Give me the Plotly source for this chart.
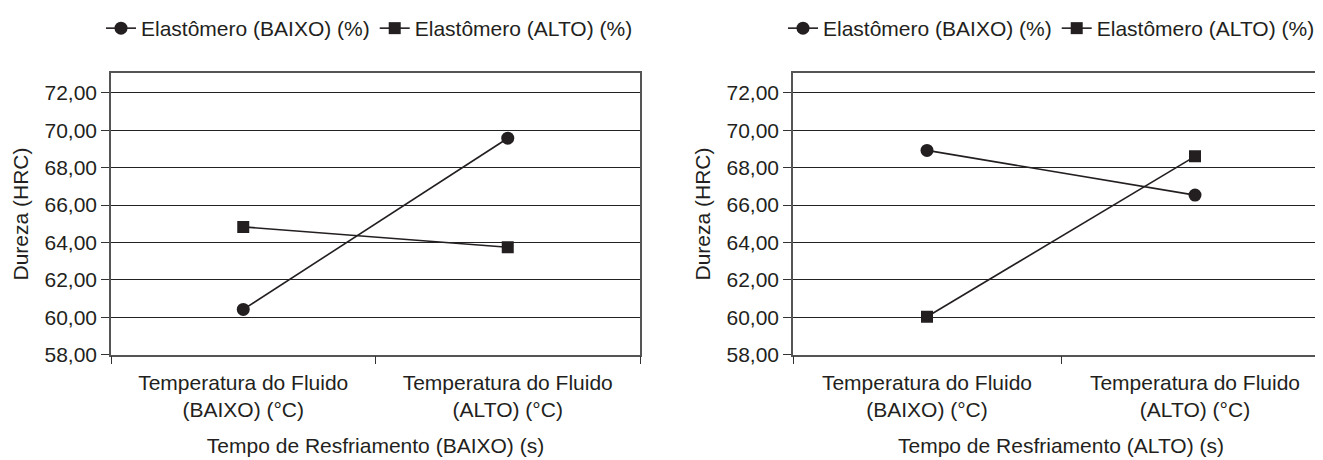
import plotly.graph_objects as go

# ---- data ----
categories = ["Temperatura do Fluido<br>(BAIXO) (°C)", "Temperatura do Fluido<br>(ALTO) (°C)"]
series_names = ["Elastômero (BAIXO) (%)", "Elastômero (ALTO) (%)"]
left_baixo = [60.42, 69.57]
left_alto = [64.83, 63.74]
right_baixo = [68.92, 66.53]
right_alto = [60.03, 68.60]
x_titles = ["Tempo de Resfriamento (BAIXO) (s)", "Tempo de Resfriamento (ALTO) (s)"]
y_title = "Dureza (HRC)"
y_ticks = [58, 60, 62, 64, 66, 68, 70, 72]

W, H = 1323, 460
FONT = "Liberation Sans, Arial, sans-serif"
FS = 21
INK = "#231f20"

fig = go.Figure()

panels = [
    (left_baixo, left_alto, "x", "y", "legend"),
    (right_baixo, right_alto, "x2", "y2", "legend2"),
]
for baixo, alto, xa, ya, lg in panels:
    fig.add_trace(go.Scatter(
        x=categories, y=baixo, name=series_names[0], mode="lines+markers",
        xaxis=xa, yaxis=ya, legend=lg,
        line=dict(color=INK, width=1.6),
        marker=dict(symbol="circle", size=13, color=INK),
    ))
    fig.add_trace(go.Scatter(
        x=categories, y=alto, name=series_names[1], mode="lines+markers",
        xaxis=xa, yaxis=ya, legend=lg,
        line=dict(color=INK, width=1.6),
        marker=dict(symbol="square", size=12, color=INK),
    ))

def px_x(p):
    return p / W

def px_y(p):
    return 1 - p / H

xdoms = [[px_x(103), px_x(632)], [px_x(785), px_x(1321)]]
ydom = [px_y(355), px_y(66)]

axis_common = dict(
    showline=True, linecolor="#555555", linewidth=1.5, mirror=True,
    ticks="outside", ticklen=8, tickcolor="#333333", tickwidth=1.3,
    tickfont=dict(family=FONT, size=FS, color=INK),
)

for i, (xk, yk, anchor_x, anchor_y) in enumerate([("xaxis", "yaxis", "y", "x"), ("xaxis2", "yaxis2", "y2", "x2")]):
    fig.layout[xk] = dict(
        domain=xdoms[i], anchor=anchor_x, type="category",
        range=[-0.5, 1.5], tickson="boundaries", showgrid=False,
        ticklabelstandoff=8,
        title=dict(text=x_titles[i], font=dict(family=FONT, size=FS, color=INK), standoff=18),
        **axis_common,
    )
    fig.layout[yk] = dict(
        domain=ydom, anchor=anchor_y, range=[58, 73.04],
        tickvals=y_ticks, tickformat=".2f",
        showgrid=True, gridcolor="#222222", gridwidth=1.4,
        zeroline=False,
        title=dict(text=y_title, font=dict(family=FONT, size=FS, color=INK), standoff=10),
        **axis_common,
    )

legend_common = dict(
    orientation="h", xref="paper", yref="paper", yanchor="middle",
    font=dict(family=FONT, size=FS, color=INK),
    bgcolor="rgba(0,0,0,0)", itemwidth=30, tracegroupgap=0,
    itemclick=False,
)
fig.update_layout(
    width=W, height=H,
    margin=dict(l=0, r=0, t=0, b=0),
    paper_bgcolor="white", plot_bgcolor="white",
    separators=",.",
    showlegend=True,
    legend=dict(x=px_x(93), y=px_y(20), **legend_common),
    legend2=dict(x=px_x(775), y=px_y(20), **legend_common),
    font=dict(family=FONT, size=FS, color=INK),
)

fig.write_html("out.html")
